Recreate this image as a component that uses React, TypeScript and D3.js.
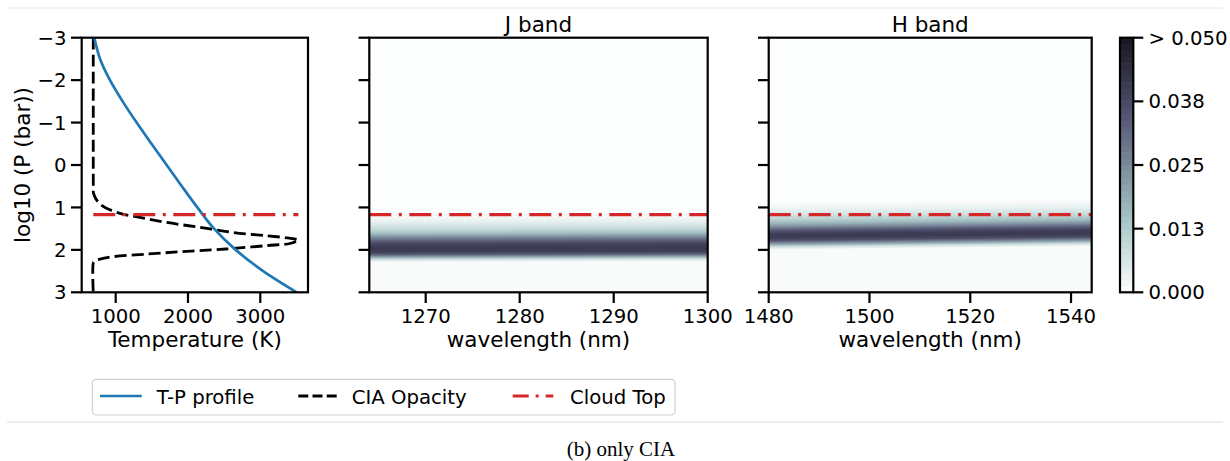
import React from "react";
import * as d3 from "d3";

// ---------- data ----------
const yTicks = [-3, -2, -1, 0, 1, 2, 3];
const tempTicks = [1000, 2000, 3000];
const jTicks = [1270, 1280, 1290, 1300];
const hTicks = [1480, 1500, 1520, 1540];
const cbTicks = [0, 0.0125, 0.025, 0.0375, 0.05];
const cbTickLabels = ["0.000", "0.013", "0.025", "0.038", "> 0.050"];

// T-P profile
const tpLogP = [-3, -2.5, -2, -1.5, -1, -0.5, 0, 0.5, 1, 1.5, 2, 2.5, 3];
const tpTemp = [704, 784, 921, 1096, 1290, 1495, 1705, 1915, 2130, 2360, 2660, 3040, 3503];

// CIA opacity (scaled into temperature units)
const ciaLogP = [-3, 0, 0.5, 0.684, 0.92, 1.118, 1.236, 1.354, 1.47, 1.59, 1.667, 1.72, 1.77, 1.8, 1.85, 1.9, 1.96, 2.0, 2.045, 2.1, 2.16, 2.22, 2.27, 2.3, 3];
const ciaTemp = [690, 690, 691, 696, 783, 1014, 1336, 1705, 2166, 2627, 3088, 3380, 3527, 3500, 3411, 3088, 2673, 2350, 1890, 1429, 967, 783, 710, 692, 690];

const cloudTop = 1.17;

// J band opacity profile (left edge) and band drift across the band
const jProfileLogP = [1.15, 1.25, 1.35, 1.45, 1.55, 1.62, 1.7, 1.78, 1.86, 1.95, 2.05, 2.12, 2.18, 2.24, 2.3];
const jProfileVal = [0.0005, 0.002, 0.004, 0.007, 0.011, 0.016, 0.024, 0.032, 0.038, 0.041, 0.04, 0.032, 0.018, 0.006, 0.001];
const jShift = [0, -0.02];

const hProfileLogP = [0.88, 0.98, 1.08, 1.18, 1.28, 1.38, 1.46, 1.54, 1.62, 1.7, 1.78, 1.86, 1.93, 2.0];
const hProfileVal = [0.0005, 0.002, 0.004, 0.007, 0.011, 0.017, 0.025, 0.034, 0.04, 0.041, 0.036, 0.022, 0.008, 0.001];
const hShift = [0, -0.08];

const background = 0.001;
const vmax = 0.05;
const nLevels = 40;

// ---------- colormap (matplotlib bone, reversed) ----------
const rS = d3.scaleLinear().domain([0, 0.746032, 1]).range([0, 0.652778, 1]);
const gS = d3.scaleLinear().domain([0, 0.365079, 0.746032, 1]).range([0, 0.319444, 0.777778, 1]);
const bS = d3.scaleLinear().domain([0, 0.365079, 1]).range([0, 0.444444, 1]);
function boneR(v: number) {
  const t = 1 - Math.max(0, Math.min(1, (v / vmax) * 0.9));
  return d3.rgb(rS(t) * 255, gS(t) * 255, bS(t) * 255).formatHex();
}

// ---------- layout ----------
const TOP = 37.7;
const BOT = 292.3;
const FONT = "DejaVu Sans, sans-serif";
const TICK_FS = 19.7;
const LABEL_FS = 21.5;
const TICK_LEN = 10.7;
const AXW = 2.2;
const RED = "#d62728";
const BLUE = "#1f77b4";

const yScale = d3.scaleLinear().domain([-3, 3]).range([TOP, BOT]);
const xT = d3.scaleLinear().domain([530, 3660]).range([81.7, 308]);
const xJ = d3.scaleLinear().domain([1264, 1300]).range([369.3, 707.7]);
const xH = d3.scaleLinear().domain([1480, 1544.1]).range([768.7, 1091.7]);
const cbScale = d3.scaleLinear().domain([0, vmax]).range([BOT, TOP]);
const CB_X0 = 1120;
const CB_X1 = 1133.3;

const minus = (n: number) => (n < 0 ? "\u2212" + Math.abs(n) : String(n));

function YAxis({ x0, labels }: { x0: number; labels: boolean }) {
  return (
    <g>
      {yTicks.map((t) => (
        <g key={t}>
          <line x1={x0 - TICK_LEN} x2={x0} y1={yScale(t)} y2={yScale(t)} stroke="#000" strokeWidth={AXW} />
          {labels && (
            <text x={x0 - TICK_LEN - 4.5} y={yScale(t)} dy="0.36em" textAnchor="end" fontSize={TICK_FS} fontFamily={FONT}>
              {minus(t)}
            </text>
          )}
        </g>
      ))}
    </g>
  );
}

function XAxis({ scale, ticks, label }: { scale: d3.ScaleLinear<number, number>; ticks: number[]; label: string }) {
  const [r0, r1] = scale.range();
  return (
    <g>
      {ticks.map((t) => (
        <g key={t}>
          <line x1={scale(t)} x2={scale(t)} y1={BOT} y2={BOT + TICK_LEN} stroke="#000" strokeWidth={AXW} />
          <text x={scale(t)} y={323.3} textAnchor="middle" fontSize={TICK_FS} fontFamily={FONT}>
            {t}
          </text>
        </g>
      ))}
      <text x={(r0 + r1) / 2} y={347.2} textAnchor="middle" fontSize={LABEL_FS} fontFamily={FONT}>
        {label}
      </text>
    </g>
  );
}

function Frame({ scale }: { scale: d3.ScaleLinear<number, number> }) {
  const [r0, r1] = scale.range();
  return <rect x={r0} y={TOP} width={r1 - r0} height={BOT - TOP} fill="none" stroke="#000" strokeWidth={AXW} />;
}

function Heat({ id, scale, pLogP, pVal, shift }: { id: string; scale: d3.ScaleLinear<number, number>; pLogP: number[]; pVal: number[]; shift: number[] }) {
  const [x0, x1] = scale.range();
  const W = x1 - x0;
  const s = yScale(shift[1]) - yScale(shift[0]);
  const L = Math.hypot(W, s);
  const nx = -s / L;
  const ny = W / L;
  const y0 = TOP - 30;
  const HH = BOT - TOP + 60;
  const off = (p: number) => ((yScale(p + shift[0]) - y0) * (W / L)) / HH;
  return (
    <g>
      <defs>
        <linearGradient id={id} gradientUnits="userSpaceOnUse" x1={x0} y1={y0} x2={x0 + nx * HH} y2={y0 + ny * HH}>
          {pLogP.map((p, i) => (
            <stop key={i} offset={off(p)} stopColor={boneR(pVal[i])} />
          ))}
        </linearGradient>
      </defs>
      <rect x={x0} y={TOP} width={W} height={BOT - TOP} fill={boneR(background)} />
      <rect x={x0} y={TOP} width={W} height={BOT - TOP} fill={`url(#${id})`} />
    </g>
  );
}

function CloudLine({ x0, x1, dash }: { x0: number; x1: number; dash: string }) {
  return <line x1={x0} x2={x1} y1={yScale(cloudTop)} y2={yScale(cloudTop)} stroke={RED} strokeWidth={3.2} strokeDasharray={dash} />;
}

export default function App() {
  const tpLine = d3
    .line<number>()
    .x((_, i) => xT(tpTemp[i]))
    .y((d) => yScale(d))
    .curve(d3.curveCatmullRom);
  const ciaLine = d3
    .line<number>()
    .x((_, i) => xT(ciaTemp[i]))
    .y((d) => yScale(d))
    .curve(d3.curveCatmullRom);

  const levels = d3.range(nLevels);
  const step = vmax / nLevels;
  const cloudDash = "22 7.5 3 7.5";

  return (
    <svg width={1230} height={461} style={{ position: "absolute", left: 0, top: 0, background: "#fff" }}>
      <rect x={0} y={0} width={1230} height={461} fill="#fff" />
      <line x1={7} x2={1223} y1={8} y2={8} stroke="#e4e4e4" strokeWidth={1} />
      <line x1={7} x2={1223} y1={422} y2={422} stroke="#dcdcdc" strokeWidth={1} />

      {/* Panel 1 */}
      <defs>
        <clipPath id="clip1">
          <rect x={81.7} y={TOP} width={308 - 81.7} height={BOT - TOP} />
        </clipPath>
      </defs>
      <g clipPath="url(#clip1)">
        <path d={ciaLine(ciaLogP) || ""} fill="none" stroke="#000" strokeWidth={2.8} strokeDasharray="12 5" />
        <path d={tpLine(tpLogP) || ""} fill="none" stroke={BLUE} strokeWidth={2.7} />
        <CloudLine x0={xT(d3.min(ciaTemp)!)} x1={xT(d3.max(ciaTemp)!)} dash={cloudDash} />
      </g>
      <Frame scale={xT} />
      <YAxis x0={81.7} labels={true} />
      <XAxis scale={xT} ticks={tempTicks} label="Temperature (K)" />
      <text transform={`translate(29.6,165) rotate(-90)`} textAnchor="middle" fontSize={LABEL_FS} fontFamily={FONT}>
        log10 (P (bar))
      </text>

      {/* Panel 2: J band */}
      <Heat id="gJ" scale={xJ} pLogP={jProfileLogP} pVal={jProfileVal} shift={jShift} />
      <CloudLine x0={369.3} x1={707.7} dash={cloudDash} />
      <Frame scale={xJ} />
      <YAxis x0={369.3} labels={false} />
      <XAxis scale={xJ} ticks={jTicks} label="wavelength (nm)" />
      <text x={538.5} y={32.3} textAnchor="middle" fontSize={LABEL_FS} fontFamily={FONT}>
        J band
      </text>

      {/* Panel 3: H band */}
      <Heat id="gH" scale={xH} pLogP={hProfileLogP} pVal={hProfileVal} shift={hShift} />
      <CloudLine x0={768.7} x1={1091.7} dash={cloudDash} />
      <Frame scale={xH} />
      <YAxis x0={768.7} labels={false} />
      <XAxis scale={xH} ticks={hTicks} label="wavelength (nm)" />
      <text x={930.2} y={32.3} textAnchor="middle" fontSize={LABEL_FS} fontFamily={FONT}>
        H band
      </text>

      {/* Colorbar */}
      {levels.map((i) => (
        <rect
          key={i}
          x={CB_X0}
          y={cbScale((i + 1) * step)}
          width={CB_X1 - CB_X0}
          height={cbScale(i * step) - cbScale((i + 1) * step) + 0.5}
          fill={boneR((i + 0.5) * step)}
        />
      ))}
      <rect x={CB_X0} y={TOP} width={CB_X1 - CB_X0} height={BOT - TOP} fill="none" stroke="#000" strokeWidth={AXW} />
      {cbTicks.map((t, i) => (
        <g key={t}>
          <line x1={CB_X1} x2={CB_X1 + 10} y1={cbScale(t)} y2={cbScale(t)} stroke="#000" strokeWidth={AXW} />
          <text x={1148.5} y={cbScale(t)} dy="0.36em" fontSize={TICK_FS} fontFamily={FONT}>
            {cbTickLabels[i]}
          </text>
        </g>
      ))}

      {/* Legend */}
      <rect x={92.3} y={379.3} width={582.7} height={35.7} rx={4} fill="#fff" stroke="#d0d0d0" strokeWidth={1.2} />
      <line x1={100} x2={141.7} y1={396} y2={396} stroke={BLUE} strokeWidth={2.7} />
      <text x={156.7} y={404} fontSize={TICK_FS} fontFamily={FONT}>T-P profile</text>
      <line x1={298.3} x2={336.7} y1={396} y2={396} stroke="#000" strokeWidth={2.8} strokeDasharray="10 4.2" />
      <text x={351.7} y={404} fontSize={TICK_FS} fontFamily={FONT}>CIA Opacity</text>
      <line x1={512.7} x2={553.3} y1={396} y2={396} stroke={RED} strokeWidth={3} strokeDasharray="16 7 3 7" />
      <text x={570} y={404} fontSize={TICK_FS} fontFamily={FONT}>Cloud Top</text>

      <text x={621} y={456} textAnchor="middle" fontSize={21} fontFamily="Liberation Serif, Times New Roman, serif">
        (b) only CIA
      </text>
    </svg>
  );
}
